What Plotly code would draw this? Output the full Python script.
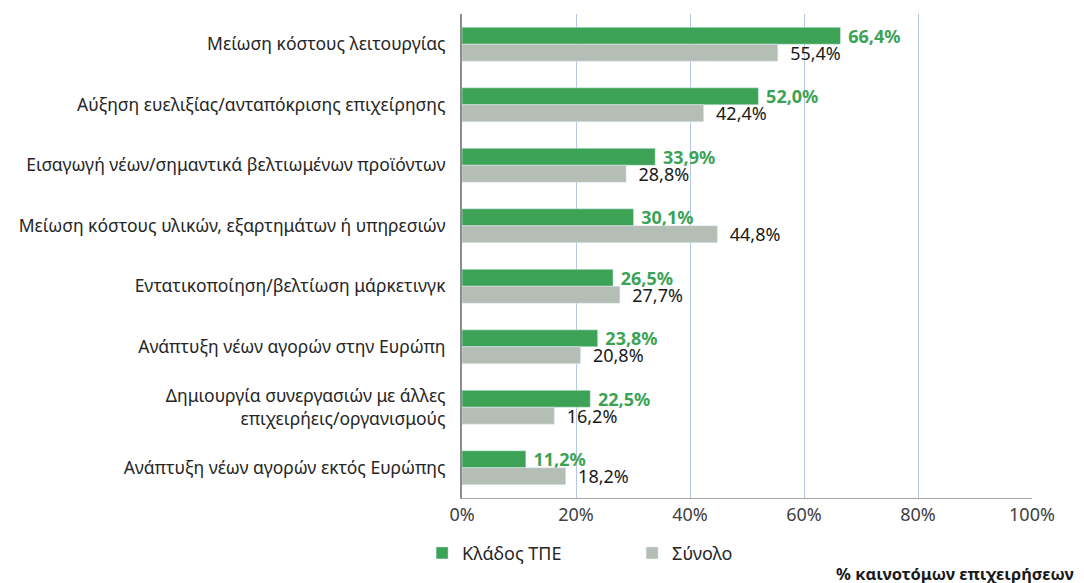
import plotly.graph_objects as go

categories = [
    "Μείωση κόστους λειτουργίας",
    "Αύξηση ευελιξίας/ανταπόκρισης επιχείρησης",
    "Εισαγωγή νέων/σημαντικά βελτιωμένων προϊόντων",
    "Μείωση κόστους υλικών, εξαρτημάτων ή υπηρεσιών",
    "Εντατικοποίηση/βελτίωση μάρκετινγκ",
    "Ανάπτυξη νέων αγορών στην Ευρώπη",
    "Δημιουργία συνεργασιών με άλλες<br>επιχειρήεις/οργανισμούς",
    "Ανάπτυξη νέων αγορών εκτός Ευρώπης",
]
tpe = [66.4, 52.0, 33.9, 30.1, 26.5, 23.8, 22.5, 11.2]
total = [55.4, 42.4, 28.8, 44.8, 27.7, 20.8, 16.2, 18.2]
x_ticks = [0, 20, 40, 60, 80, 100]

GREEN = "#3ca356"
GREY = "#b4beb4"
FONT = "Noto Sans"


def pct(v, pad=" "):
    return pad + f"{v:.1f}%".replace(".", ",")


fig = go.Figure()
fig.add_trace(go.Bar(
    name="Κλάδος ΤΠΕ", y=categories, x=tpe, orientation="h",
    marker_color=GREEN, text=[pct(v) for v in tpe], textposition="outside",
    constraintext="none",
    textfont=dict(color=GREEN, size=18, family=FONT, weight="bold"),
    cliponaxis=False,
))
fig.add_trace(go.Bar(
    name="Σύνολο", y=categories, x=total, orientation="h",
    marker_color=GREY, text=[pct(v, "  ") for v in total], textposition="outside",
    constraintext="none",
    textfont=dict(color="#1a1a1a", size=18, family=FONT),
    cliponaxis=False,
))

# the page body has an 8px margin, so the figure sits 8px in from the top-left
fig.update_layout(
    width=1084, height=583,
    margin=dict(l=454, r=60, t=6, b=93, autoexpand=False),
    barmode="group", bargap=0.44, bargroupgap=0,
    plot_bgcolor="white", paper_bgcolor="white",
    font=dict(family=FONT, size=18, color="#262626"),
    legend=dict(
        orientation="h", x=-0.07, xanchor="left", y=-0.114, yanchor="middle",
        entrywidth=165, entrywidthmode="pixels",
        font=dict(size=18, color="#262626"), traceorder="normal",
    ),
)
fig.update_xaxes(
    range=[0, 100], tickvals=x_ticks, ticktext=[f"{t}%" for t in x_ticks],
    showgrid=True, gridcolor="#b4c7e7", gridwidth=1.3,
    showline=True, linecolor="#a6a6a6", linewidth=1.3,
    zeroline=False, ticks="", automargin=False,
    tickfont=dict(size=18, color="#404040"),
)
fig.update_yaxes(
    autorange="reversed", showline=True, linecolor="#8c8c8c", linewidth=2,
    showgrid=False, ticks="", ticklabelstandoff=11, automargin=False,
    tickfont=dict(size=17.5, color="#262626"),
)
fig.add_annotation(
    text="<b>% καινοτόμων επιχειρήσεων</b>", xref="paper", yref="paper",
    x=1.077, y=-0.155, xanchor="right", yanchor="middle", showarrow=False,
    font=dict(size=16.5, color="#1a1a1a", family=FONT),
)

fig.write_html("out.html")
